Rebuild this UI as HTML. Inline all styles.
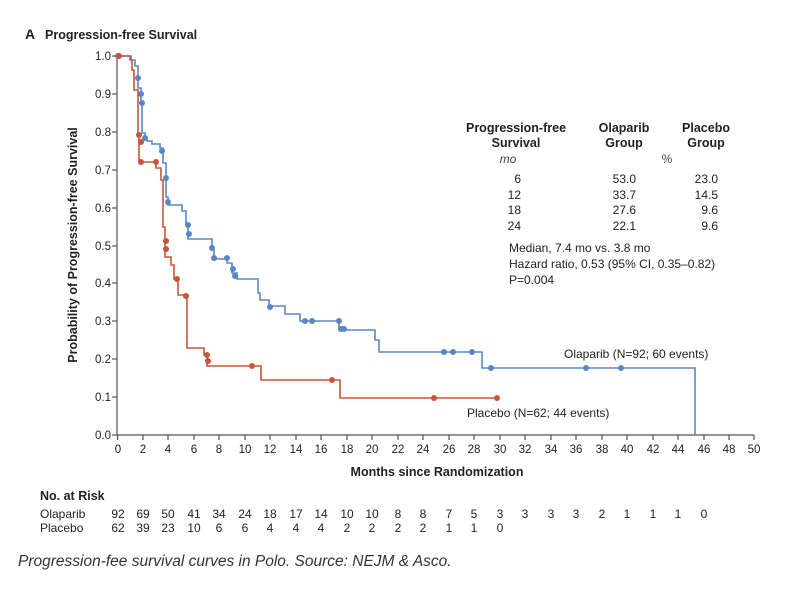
<!DOCTYPE html>
<html><head><meta charset="utf-8"><style>
html,body{margin:0;padding:0;background:#fff;}
svg{display:block;font-family:"Liberation Sans Narrow","Liberation Sans",sans-serif;}
</style></head><body>
<svg width="801" height="591" viewBox="0 0 801 591" xmlns="http://www.w3.org/2000/svg">
<text x="25" y="39" font-size="14" font-weight="bold" fill="#222" font-family="Liberation Sans,sans-serif">A</text>
<text x="45" y="39" font-size="12.5" font-weight="bold" fill="#222">Progression-free Survival</text>
<text transform="translate(77,245) rotate(-90)" text-anchor="middle" font-size="12.5" font-weight="bold" fill="#222">Probability of Progression-free Survival</text>
<g stroke="#555" stroke-width="1.2" fill="none">
<line x1="117" y1="56" x2="117" y2="435"/>
<line x1="117" y1="435" x2="754" y2="435"/>
<line x1="112" y1="56" x2="117" y2="56"/><line x1="112" y1="94" x2="117" y2="94"/><line x1="112" y1="132" x2="117" y2="132"/><line x1="112" y1="170" x2="117" y2="170"/><line x1="112" y1="208" x2="117" y2="208"/><line x1="112" y1="246" x2="117" y2="246"/><line x1="112" y1="283" x2="117" y2="283"/><line x1="112" y1="321" x2="117" y2="321"/><line x1="112" y1="359" x2="117" y2="359"/><line x1="112" y1="397" x2="117" y2="397"/><line x1="112" y1="435" x2="117" y2="435"/>
<path d="M117.5 435v5M143 435v5M168 435v5M194 435v5M219 435v5M245 435v5M270 435v5M296 435v5M321 435v5M347 435v5M372 435v5M398 435v5M423 435v5M449 435v5M474 435v5M500 435v5M525 435v5M551 435v5M576 435v5M602 435v5M627 435v5M653 435v5M678 435v5M704 435v5M729 435v5M754 435v5"/>
</g>
<g font-size="11.5" fill="#222" text-anchor="end">
<text x="111" y="60">1.0</text><text x="111" y="98">0.9</text><text x="111" y="136">0.8</text><text x="111" y="174">0.7</text><text x="111" y="212">0.6</text><text x="111" y="250">0.5</text><text x="111" y="287">0.4</text><text x="111" y="325">0.3</text><text x="111" y="363">0.2</text><text x="111" y="401">0.1</text><text x="111" y="439">0.0</text>
</g>
<g font-size="11.5" fill="#222" text-anchor="middle">
<text x="118" y="453">0</text><text x="143" y="453">2</text><text x="168" y="453">4</text><text x="194" y="453">6</text><text x="219" y="453">8</text><text x="245" y="453">10</text><text x="270" y="453">12</text><text x="296" y="453">14</text><text x="321" y="453">16</text><text x="347" y="453">18</text><text x="372" y="453">20</text><text x="398" y="453">22</text><text x="423" y="453">24</text><text x="449" y="453">26</text><text x="474" y="453">28</text><text x="500" y="453">30</text><text x="525" y="453">32</text><text x="551" y="453">34</text><text x="576" y="453">36</text><text x="602" y="453">38</text><text x="627" y="453">40</text><text x="653" y="453">42</text><text x="678" y="453">44</text><text x="704" y="453">46</text><text x="729" y="453">48</text><text x="754" y="453">50</text>
</g>
<text x="437" y="476" font-size="12.5" font-weight="bold" fill="#222" text-anchor="middle">Months since Randomization</text>
<path fill="none" stroke="#5b86c5" stroke-width="1.6" d="M118 56H131V60H135V66H138V88H141V103H142V133H145V138H147V141H152V144H160V148H163V163H166V197H168V205H182V211H186V225H188V239H212V248H214V259H227V263H232V273H237V279H258V293H260V300H269V306H285V314H300V321H339V329H344V330H375V340H379V352H482V368H695V435"/>
<g fill="#5b86c5">
<circle cx="118" cy="56" r="3"/><circle cx="138" cy="78" r="3"/><circle cx="141" cy="94" r="3"/><circle cx="142" cy="103" r="3"/><circle cx="145" cy="138" r="3"/><circle cx="162" cy="151" r="3"/><circle cx="166" cy="178" r="3"/><circle cx="168" cy="202" r="3"/><circle cx="188" cy="225" r="3"/><circle cx="189" cy="234" r="3"/><circle cx="212" cy="248" r="3"/><circle cx="214" cy="258" r="3"/><circle cx="227" cy="258" r="3"/><circle cx="233" cy="269" r="3"/><circle cx="235" cy="276" r="3"/><circle cx="270" cy="307" r="3"/><circle cx="305" cy="321" r="3"/><circle cx="312" cy="321" r="3"/><circle cx="339" cy="321" r="3"/><circle cx="341" cy="329" r="3"/><circle cx="344" cy="329" r="3"/><circle cx="444" cy="352" r="3"/><circle cx="453" cy="352" r="3"/><circle cx="472" cy="352" r="3"/><circle cx="491" cy="368" r="3"/><circle cx="586" cy="368" r="3"/><circle cx="621" cy="368" r="3"/>
</g>
<path fill="none" stroke="#c8553a" stroke-width="1.6" d="M118 56H130V60H132V70H134V90H138V135H139V162H156V168H161V180H163V227H165V257H171V265H174V279H178V295H187V348H204V355H207V366H261V380H340V398H498"/>
<g fill="#c8553a">
<circle cx="119" cy="56" r="3"/><circle cx="139" cy="135" r="3"/><circle cx="141" cy="142" r="3"/><circle cx="141" cy="162" r="3"/><circle cx="156" cy="162" r="3"/><circle cx="166" cy="241" r="3"/><circle cx="166" cy="249" r="3"/><circle cx="177" cy="279" r="3"/><circle cx="186" cy="296" r="3"/><circle cx="207" cy="355" r="3"/><circle cx="208" cy="361" r="3"/><circle cx="252" cy="366" r="3"/><circle cx="332" cy="380" r="3"/><circle cx="434" cy="398" r="3"/><circle cx="497" cy="398" r="3"/>
</g>
<text x="564" y="358" font-size="12" fill="#222">Olaparib (N=92; 60 events)</text>
<text x="467" y="417" font-size="12" fill="#222">Placebo (N=62; 44 events)</text>
<g font-size="12.5" font-weight="bold" fill="#222" text-anchor="middle">
<text x="516" y="132">Progression-free</text><text x="516" y="147">Survival</text>
<text x="624" y="132">Olaparib</text><text x="624" y="147">Group</text>
<text x="706" y="132">Placebo</text><text x="706" y="147">Group</text>
</g>
<text x="508" y="163" font-size="12" font-style="italic" fill="#444" text-anchor="middle">mo</text>
<text x="667" y="163" font-size="12" fill="#444" text-anchor="middle">%</text>
<g font-size="12" fill="#222" text-anchor="end">
<text x="521" y="183">6</text><text x="521" y="199">12</text><text x="521" y="214">18</text><text x="521" y="230">24</text>
<text x="636" y="183">53.0</text><text x="636" y="199">33.7</text><text x="636" y="214">27.6</text><text x="636" y="230">22.1</text>
<text x="718" y="183">23.0</text><text x="718" y="199">14.5</text><text x="718" y="214">9.6</text><text x="718" y="230">9.6</text>
</g>
<g font-size="12" fill="#222">
<text x="509" y="252">Median, 7.4 mo  vs. 3.8 mo</text>
<text x="509" y="268">Hazard ratio, 0.53 (95% CI, 0.35–0.82)</text>
<text x="509" y="284">P=0.004</text>
</g>
<text x="40" y="500" font-size="12.5" font-weight="bold" fill="#222">No. at Risk</text>
<text x="40" y="518" font-size="12" fill="#222">Olaparib</text>
<text x="40" y="532" font-size="12" fill="#222">Placebo</text>
<g font-size="12" fill="#222" text-anchor="middle">
<text x="118" y="518">92</text><text x="143" y="518">69</text><text x="168" y="518">50</text><text x="194" y="518">41</text><text x="219" y="518">34</text><text x="245" y="518">24</text><text x="270" y="518">18</text><text x="296" y="518">17</text><text x="321" y="518">14</text><text x="347" y="518">10</text><text x="372" y="518">10</text><text x="398" y="518">8</text><text x="423" y="518">8</text><text x="449" y="518">7</text><text x="474" y="518">5</text><text x="500" y="518">3</text><text x="525" y="518">3</text><text x="551" y="518">3</text><text x="576" y="518">3</text><text x="602" y="518">2</text><text x="627" y="518">1</text><text x="653" y="518">1</text><text x="678" y="518">1</text><text x="704" y="518">0</text>
<text x="118" y="532">62</text><text x="143" y="532">39</text><text x="168" y="532">23</text><text x="194" y="532">10</text><text x="219" y="532">6</text><text x="245" y="532">6</text><text x="270" y="532">4</text><text x="296" y="532">4</text><text x="321" y="532">4</text><text x="347" y="532">2</text><text x="372" y="532">2</text><text x="398" y="532">2</text><text x="423" y="532">2</text><text x="449" y="532">1</text><text x="474" y="532">1</text><text x="500" y="532">0</text>
</g>
<text x="18" y="566" font-size="15.5" font-style="italic" fill="#333" font-family="Liberation Sans,sans-serif">Progression-fee survival curves in Polo. Source: NEJM &amp; Asco.</text>
</svg>
</body></html>
